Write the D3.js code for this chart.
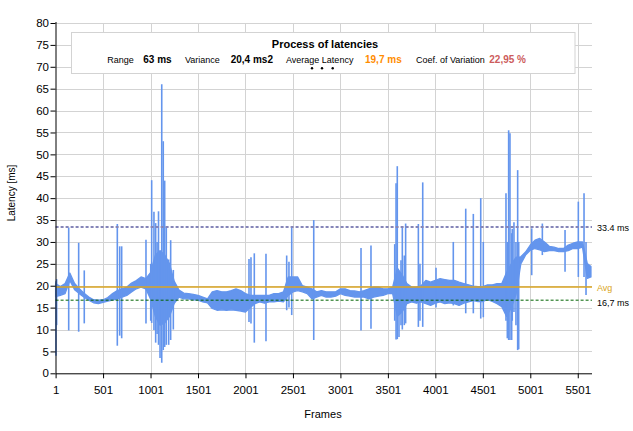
<!DOCTYPE html>
<html><head><meta charset="utf-8">
<script src="https://cdn.jsdelivr.net/npm/d3@7"></script>
<style>
html,body{margin:0;padding:0;background:#fff;}
svg{display:block;font-family:"Liberation Sans",Arial,sans-serif;}
</style></head>
<body><svg id="c" width="633" height="431"></svg>
<script>
// ---- data ----
const xTicks = [1, 501, 1001, 1501, 2001, 2501, 3001, 3501, 4001, 4501, 5001, 5501];
const yTicks = [0, 5, 10, 15, 20, 25, 30, 35, 40, 45, 50, 55, 60, 65, 70, 75, 80];
const frameMax = 5651;
// sampled frames (every 50 frames) with the low / high envelope of the latency band
const bandFrames = [1,51,101,151,201,251,301,351,401,451,501,551,601,651,701,751,801,851,901,951,
 1001,1051,1101,1151,1201,1251,1301,1351,1401,1451,1501,1551,1601,1651,1701,1751,1801,1851,1901,1951,
 2001,2051,2101,2151,2201,2251,2301,2351,2401,2451,2501,2551,2601,2651,2701,2751,2801,2851,2901,2951,
 3001,3051,3101,3151,3201,3251,3301,3351,3401,3451,3501,3551,3601,3651,3701,3751,3801,3851,3901,3951,
 4001,4051,4101,4151,4201,4251,4301,4351,4401,4451,4501,4551,4601,4651,4701,4751,4801,4851,4901,4951,
 5001,5051,5101,5151,5201,5251,5301,5351,5401,5451,5501,5551,5601,5640];
const bandLow = [17.5,17.8,18.2,21.2,19.1,18.2,17.4,16.7,16.1,15.9,
 16.2,16.5,16.7,17.0,17.4,17.8,18.6,19.3,19.7,19.3,
 17,13,11,11.5,13,16,17.4,17,17,16.8,
 16.7,16.3,16.1,14.8,14.4,14.5,14.4,14.5,14.4,14.2,
 14.0,15.0,15.9,16.3,16,16.3,16.3,16.5,16.3,17.8,
 18.6,18.9,18.6,18.2,17,17.4,17.8,17.4,17.4,17.6,
 18.2,17.8,17.6,17.4,17.4,17.4,17,17.4,17.6,17.8,
 18.2,18.2,13,14,15.9,16.3,16,16.3,15.9,15.5,
 16,16.3,15.9,16.1,15.9,15.5,16,16.3,16.6,16.4,
 16.4,16.8,16.4,15.9,15.2,13,15,18,25,27,
 28.1,28.5,28.2,27.8,28,28,27.8,27.8,28,28.5,
 28.5,28.8,21.7,22];
const bandHigh = [20.5,19.8,20.5,22.9,20.5,19.3,18.3,17.4,16.8,16.7,
 16.8,17.3,18.2,18.9,19.3,19.7,20.6,21.2,22.0,21.6,
 23,27,28,27,25,21,19,18.3,18.2,18,
 17.8,17.4,17,18.6,18.9,18.6,18.6,18.9,19.3,18.9,
 18.2,17.8,17.8,17.8,17.8,17.8,18.2,18.2,18.6,22,
 22,22,20,19.7,19.3,18.6,18.9,18.6,18.6,18.6,
 19.3,19.3,18.9,18.8,18.6,18.9,19.3,19.7,19.7,19.3,
 19.3,19.7,24,22.5,20.5,19.7,19.7,20,21.2,20.8,
 21.2,21.6,21.4,21.2,21.2,20.8,20.5,20.2,19.9,19.8,
 19.8,20.2,20.2,20.5,20.5,23,25,26.5,26.6,27.7,
 29.3,30.4,30.8,30,29,28.8,28.5,28.5,29.3,29.7,
 30,30,25.1,24.4];
// single-frame spikes: frame, lowest value, highest value
const spikeFrames = [5,12,139,244,303,651,676,697,953,1003,1013,1037,1055,1070,1085,1101,1119,1135,1150,1167,1192,1213,1241,
 2038,2059,2094,2217,2435,2459,2488,2720,3218,3323,3573,3587,3600,3618,3639,3653,3674,3688,3822,3839,3868,4008,4190,
 4321,4401,4479,4506,4745,4759,4773,4787,4805,4811,4829,4850,4868,4879,5016,5128,5367,5507,5567,5588];
const spikeLow = [4,11,9.8,9.5,11.4,6.3,8.6,8,11.4,12,11.5,9.9,7,9,6.5,3.5,2.4,5.3,6,6.5,6.5,7.6,10,
 11.7,11.4,7,7.3,14.4,15,13.3,7.6,9.8,10.2,12,7.7,7.8,8.3,11,10,11,11.4,10.6,12,10.6,15,15.5,
 13.7,13.7,12.5,12.8,12,8,7.6,7.6,7.6,12,14,11,5.3,5.5,22.4,27,23.2,22,22,17.9];
const spikeHigh = [21,21.5,33.3,29.8,23.5,34.1,29,29,30.5,25,44.1,36.9,34.3,30,37,28,66,53,44,33.5,26,30.4,23.6,
 26.1,26.5,27.4,27.3,26.9,25.5,33.3,35,28.6,29.2,29.5,43.4,47.3,22,25.8,33.3,26.9,34.2,34.1,25,43.6,24.1,30,
 37.6,36.4,40,30,41.1,30,55.5,54.8,32,33,34.5,30,46.4,30,33.1,34.2,32.7,39.2,41.1,30];
const refValues = [33.4, 19.7, 16.7];
const refLabels = ["33.4 ms", "Avg", "16,7 ms"];
const statLabels = ["Range", "Variance", "Average Latency", "Coef. of Variation"];
const statValues = ["63 ms", "20,4 ms2", "19,7 ms", "22,95 %"];

// ---- drawing ----
const svg = d3.select("#c");
svg.append("rect").attr("width",633).attr("height",431).attr("fill","#fff");
const x = d3.scaleLinear().domain([1, frameMax]).range([55.6, 592]);
const y = d3.scaleLinear().domain([0, 80]).range([373.3, 23]);

const grid = svg.append("g").attr("stroke","#d3d3d3").attr("stroke-width",1);
yTicks.filter(d=>d>0).forEach(d=>{
  const yy = Math.round(y(d))+0.5;
  grid.append("line").attr("x1",x(1)).attr("x2",592).attr("y1",yy).attr("y2",yy);
});
xTicks.filter(d=>d>1).forEach(d=>{
  const xx = Math.round(x(d))+0.5;
  grid.append("line").attr("x1",xx).attr("x2",xx).attr("y1",y(80)).attr("y2",y(0));
});

const band = bandFrames.map((f,i)=>({f, lo: bandLow[i], hi: bandHigh[i]}));
const area = d3.area().x(d=>x(d.f)).y0(d=>y(d.lo)).y1(d=>y(d.hi));
svg.append("path").datum(band).attr("d",area)
  .attr("fill","#6495ED").attr("stroke","#6495ED").attr("stroke-width",1.3).attr("stroke-linejoin","round");
const spikeLine = d3.line().x(d=>x(d[0])).y(d=>y(d[1]));
spikeFrames.forEach((f,i)=>{
  svg.append("path").attr("d", spikeLine([[f, spikeLow[i]],[f, spikeHigh[i]]]))
    .attr("stroke","#6495ED").attr("stroke-width",1.6).attr("fill","none");
});

// reference lines
const refStyles = [
  {c:"#8585b8", w:2, dash:"3,2", lc:"#000"},
  {c:"#DAA520", w:1.6, dash:null, lc:"#DAA520"},
  {c:"#006400", w:1, dash:"3,2", lc:"#000"}];
const refOffsets = [1.3, 1, 2.6];
refValues.forEach((v,i)=>{
  const s = refStyles[i];
  const ln = svg.append("line").attr("x1",x(1)).attr("x2",592).attr("y1",y(v)).attr("y2",y(v))
    .attr("stroke",s.c).attr("stroke-width",s.w);
  if (s.dash) ln.attr("stroke-dasharray", s.dash);
  svg.append("text").attr("x",597).attr("y",y(v)+refOffsets[i]).attr("dominant-baseline","central")
    .attr("font-size","9px").attr("fill",s.lc).text(refLabels[i]);
});

// axes
const yAxis = svg.append("g").attr("transform","translate(55.5,0)")
  .call(d3.axisLeft(y).tickValues(yTicks).tickSize(5).tickSizeOuter(0).tickPadding(1.5));
const xAxis = svg.append("g").attr("transform",`translate(0,${y(0)})`)
  .call(d3.axisBottom(x).tickValues(xTicks).tickFormat(d3.format("d")).tickSize(5).tickSizeOuter(0).tickPadding(8));
[yAxis,xAxis].forEach(a=>{
  a.selectAll("text").attr("font-size","11.5px").attr("fill","#000").attr("font-family",null);
  a.selectAll("line,path").attr("stroke","#000");
});
xAxis.select(".domain").attr("d",`M${x(1)},0.5H592`);
yAxis.select(".domain").attr("d",`M0.5,${y(0)}V${y(80)-1}`);

svg.append("text").attr("transform","translate(11,193) rotate(-90)").attr("text-anchor","middle")
  .attr("dominant-baseline","central").attr("font-size","10px").text("Latency [ms]");
svg.append("text").attr("x",323).attr("y",414).attr("text-anchor","middle")
  .attr("dominant-baseline","central").attr("font-size","11px").text("Frames");

// stats box
svg.append("rect").attr("x",71.5).attr("y",32.5).attr("width",503.5).attr("height",41)
  .attr("fill","#fff").attr("stroke","#d3d3d3");
svg.append("text").attr("x",325).attr("y",47.7).attr("text-anchor","middle")
  .attr("font-size","11px").attr("font-weight","bold").text("Process of latencies");
const labelX = [107.3, 185, 286, 416];
const valueX = [143.3, 230.7, 365, 489.3];
const valueColors = ["#000","#000","#FF8C00","#CD5C5C"];
statLabels.forEach((t,i)=>{
  svg.append("text").attr("x",labelX[i]).attr("y",63.3).attr("font-size","9px").text(t);
  svg.append("text").attr("x",valueX[i]).attr("y",63.3).attr("font-size","10px").attr("font-weight","bold")
    .attr("fill",valueColors[i]).text(statValues[i]);
});
[312, 322, 332.7].forEach(cx=>{
  svg.append("circle").attr("cx",cx).attr("cy",68.3).attr("r",1.2).attr("fill","#000");
});
</script></body></html>
